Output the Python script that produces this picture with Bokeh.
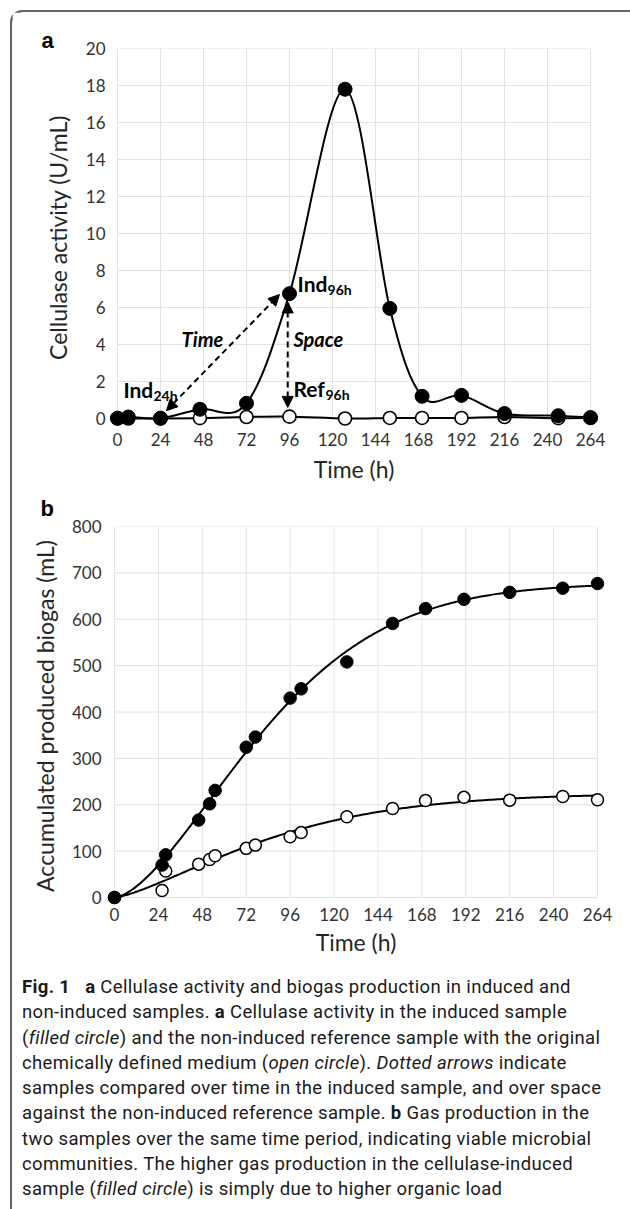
import numpy as np
from bokeh.plotting import figure
from bokeh.models import Label, Arrow, NormalHead, Div, ColumnDataSource
from bokeh.layouts import column
from bokeh.embed import file_html
from bokeh.resources import INLINE

# ---------------- data ----------------
# Panel a: cellulase activity (U/mL)
time_a = [0, 6, 24, 46, 72, 96, 127, 152, 170, 192, 216, 246, 264]
induced_a = [0.02, 0.08, 0.02, 0.50, 0.82, 6.75, 17.8, 5.95, 1.20, 1.25, 0.27, 0.15, 0.05]
reference_a = [0.0, 0.0, 0.0, 0.02, 0.08, 0.10, 0.0, 0.03, 0.03, 0.03, 0.08, 0.02, 0.03]

# Panel b: accumulated produced biogas (mL)
time_b = [0, 26, 28, 46, 52, 55, 72, 77, 96, 102, 127, 152, 170, 191, 216, 245, 264]
induced_b = [0, 70, 92, 167, 202, 231, 324, 346, 430, 450, 508, 591, 623, 643, 658, 667, 677]
reference_b = [0, 15, 57, 72, 82, 90, 106, 113, 131, 140, 174, 192, 209, 216, 210, 218, 211]

x_ticks = list(range(0, 265, 24))
y_ticks_a = list(range(0, 21, 2))
y_ticks_b = list(range(0, 801, 100))

FONT = "Lato"
GRID = "#e2e2e2"
TXT = "#262626"


def smooth_segments(x, y, s=1.0 / 6.0):
    """Excel-like smoothed line: cubic Bezier segments through the points."""
    x = np.asarray(x, float)
    y = np.asarray(y, float)
    n = len(x)
    xp = np.concatenate([[x[0]], x, [x[-1]]])
    yp = np.concatenate([[y[0]], y, [y[-1]]])
    return dict(
        x0=x[:-1], y0=y[:-1], x1=x[1:], y1=y[1:],
        cx0=x[:-1] + (xp[2:n + 1] - xp[0:n - 1]) * s,
        cy0=y[:-1] + (yp[2:n + 1] - yp[0:n - 1]) * s,
        cx1=x[1:] - (xp[3:n + 2] - xp[1:n]) * s,
        cy1=y[1:] - (yp[3:n + 2] - yp[1:n]) * s,
    )


def weibull_fit(t, y):
    """Least-squares fit of y = A (1 - exp(-(t/tau)^n)) by grid search."""
    t = np.asarray(t, float)
    y = np.asarray(y, float)
    ns = np.linspace(0.7, 3.0, 231)[:, None, None]
    taus = np.linspace(20, 300, 561)[None, :, None]
    f = 1 - np.exp(-(t[None, None, :] / taus) ** ns)
    A = (f * y).sum(-1) / (f * f).sum(-1)
    r = ((A[..., None] * f - y) ** 2).sum(-1)
    i, j = np.unravel_index(np.argmin(r), r.shape)
    return A[i, j], taus[0, j, 0], ns[i, 0, 0]


def style_axes(p, y_ticks, x_title, y_title, ystand, xstand, letter, title_offset,
               title_standoff):
    p.xaxis.ticker = x_ticks
    p.yaxis.ticker = y_ticks
    p.xaxis.bounds = (x_ticks[0], x_ticks[-1])
    p.yaxis.bounds = (y_ticks[0], y_ticks[-1])
    p.xgrid.grid_line_color = None
    p.ygrid.grid_line_color = None
    p.outline_line_color = None
    for ax in (p.xaxis[0], p.yaxis[0]):
        ax.axis_line_color = None
        ax.major_tick_line_color = None
        ax.minor_tick_line_color = None
        ax.major_tick_out = 0
        ax.major_tick_in = 0
        ax.major_label_text_font = FONT
        ax.major_label_text_font_size = "17px"
        ax.major_label_text_color = "#333333"
        ax.axis_label_text_font = FONT
        ax.axis_label_text_font_size = "23px"
        ax.axis_label_text_font_style = "normal"
        ax.axis_label_text_color = TXT
    p.xaxis.axis_label = x_title
    p.yaxis.axis_label = y_title
    p.xaxis.major_label_standoff = xstand[0]
    p.xaxis.axis_label_standoff = xstand[1]
    p.yaxis.major_label_standoff = ystand[0]
    p.yaxis.axis_label_standoff = ystand[1]
    # panel letter
    p.title.text = letter
    p.title.align = "left"
    p.title.offset = title_offset
    p.title.standoff = title_standoff
    p.title.text_font = "Liberation Sans"
    p.title.text_font_size = "22px"
    p.title.text_font_style = "bold"
    p.title.text_color = "black"
    # grid lines drawn from the tick lists (frame edges included)
    xt = np.array(x_ticks, float)
    yt = np.array(y_ticks, float)
    p.segment(x0=xt, x1=xt, y0=yt[0], y1=yt[-1], line_color=GRID, line_width=1)
    p.segment(x0=xt[0], x1=xt[-1], y0=yt, y1=yt, line_color=GRID, line_width=1)


# ---------------- panel a ----------------
pad_xa = 8 / (473 / 264)
pad_ya = 8 / (370 / 20)
fa = figure(width=610, height=476, x_range=(-pad_xa, 264 + pad_xa),
            y_range=(-pad_ya, 20), output_backend="svg",
            toolbar_location=None, min_border_left=97, min_border_right=24,
            min_border_top=36, min_border_bottom=62, frame_align=False,
            background_fill_color="white", border_fill_color="white")
style_axes(fa, y_ticks_a, "Time (h)", "Cellulase activity (U/mL)", (4, 11), (6, 6),
           "a", -68, -8)

fa.bezier(source=ColumnDataSource(smooth_segments(time_a, reference_a)),
          x0="x0", y0="y0", x1="x1", y1="y1", cx0="cx0", cy0="cy0",
          cx1="cx1", cy1="cy1", line_color="black", line_width=2)
fa.scatter(time_a, reference_a, size=13, fill_color="white", line_color="black",
           line_width=1.6)
fa.bezier(source=ColumnDataSource(smooth_segments(time_a, induced_a)),
          x0="x0", y0="y0", x1="x1", y1="y1", cx0="cx0", cy0="cy0",
          cx1="cx1", cy1="cy1", line_color="black", line_width=2)
fa.scatter(time_a, induced_a, size=14, fill_color="black", line_color="black")

# comparison arrows (anchored on the data points)
t24, t96 = time_a[2], time_a[5]
fa.add_layout(Arrow(
    start=NormalHead(size=11, fill_color="black", line_color="black"),
    end=NormalHead(size=11, fill_color="black", line_color="black"),
    x_start=t24 + 3.3, y_start=induced_a[2] + 0.4,
    x_end=t96 - 5.6, y_end=induced_a[5] - 0.05,
    line_dash="6 4", line_width=2, line_color="black"))
fa.add_layout(Arrow(
    start=NormalHead(size=11, fill_color="black", line_color="black"),
    end=NormalHead(size=11, fill_color="black", line_color="black"),
    x_start=t96 - 1, y_start=reference_a[5] + 0.5,
    x_end=t96 - 1, y_end=induced_a[5] - 0.45,
    line_dash="6 4", line_width=2, line_color="black"))


def label_sub(p, x, y, main, sub, wmain):
    p.add_layout(Label(x=x, y=y, text=main, text_font=FONT, text_font_style="bold",
                       text_font_size="21px", text_baseline="middle",
                       text_align="left", text_color="black"))
    p.add_layout(Label(x=x, y=y, text=sub, text_font=FONT, text_font_style="bold",
                       text_font_size="14px", text_baseline="middle",
                       text_align="left", text_color="black",
                       x_offset=wmain, y_offset=-6))


label_sub(fa, t24 - 20.7, 1.57, "Ind", "24h", 30)
label_sub(fa, t96 + 4.5, 7.3, "Ind", "96h", 30)
label_sub(fa, t96 + 2.2, 1.62, "Ref", "96h", 32)
fa.add_layout(Label(x=t96 - 48.6, y=4.3, text="Time", text_font=FONT,
                    text_font_style="bold italic", text_font_size="20px",
                    text_baseline="middle", text_align="center", text_color="black"))
fa.add_layout(Label(x=t96 + 2.2, y=4.3, text="Space", text_font=FONT,
                    text_font_style="bold italic", text_font_size="20px",
                    text_baseline="middle", text_align="left", text_color="black"))

# ---------------- panel b ----------------
pad_xb = 8 / (483 / 264)
pad_yb = 8 / (372 / 800)
fb = figure(width=610, height=473, x_range=(-pad_xb, 264 + pad_xb),
            y_range=(-pad_yb, 800), output_backend="svg",
            toolbar_location=None, min_border_left=94, min_border_right=17,
            min_border_top=37, min_border_bottom=56, frame_align=False,
            background_fill_color="white", border_fill_color="white")
style_axes(fb, y_ticks_b, "Time (h)", "Accumulated produced biogas (mL)", (5, 10), (2, 4),
           "b", -66, 11)

t_fit = np.linspace(time_b[0], time_b[-1], 300)
for series in (reference_b, induced_b):
    A, tau, n = weibull_fit(time_b, series)
    fb.line(t_fit, A * (1 - np.exp(-(t_fit / tau) ** n)), line_color="black", line_width=2)
fb.scatter(time_b, reference_b, size=12, fill_color="white", line_color="black",
           line_width=1.5)
fb.scatter(time_b, induced_b, size=12.5, fill_color="black", line_color="black")

# ---------------- caption ----------------
lines = [
    "<b>Fig.&nbsp;1</b>&nbsp;&nbsp; <b>a</b> Cellulase activity and biogas production in induced and",
    "non-induced samples. <b>a</b> Cellulase activity in the induced sample",
    "(<i>filled circle</i>) and the non-induced reference sample with the original",
    "chemically defined medium (<i>open circle</i>). <i>Dotted arrows</i> indicate",
    "samples compared over time in the induced sample, and over space",
    "against the non-induced reference sample. <b>b</b> Gas production in the",
    "two samples over the same time period, indicating viable microbial",
    "communities. The higher gas production in the cellulase-induced",
    "sample (<i>filled circle</i>) is simply due to higher organic load",
]
cap_html = (
    '<div style="width:610px;height:240px;overflow:hidden;box-sizing:border-box;'
    'padding:9px 0 0 5px;">'
    '<div style="font-family:Roboto,sans-serif;font-size:18.5px;line-height:25.3px;'
    'letter-spacing:0.35px;color:#1a1a1a;white-space:nowrap;">'
    + "<br>".join(lines) + "</div></div>"
)
cap = Div(text=cap_html, width=610, height=240)

layout = column(fa, fb, cap, margin=(12, 0, 0, 12),
                styles={"box-shadow": "-2px -2px 0 0 #666666",
                        "border-top-left-radius": "12px",
                        "background": "white"})

open("out.html", "w").write(file_html(layout, INLINE))
